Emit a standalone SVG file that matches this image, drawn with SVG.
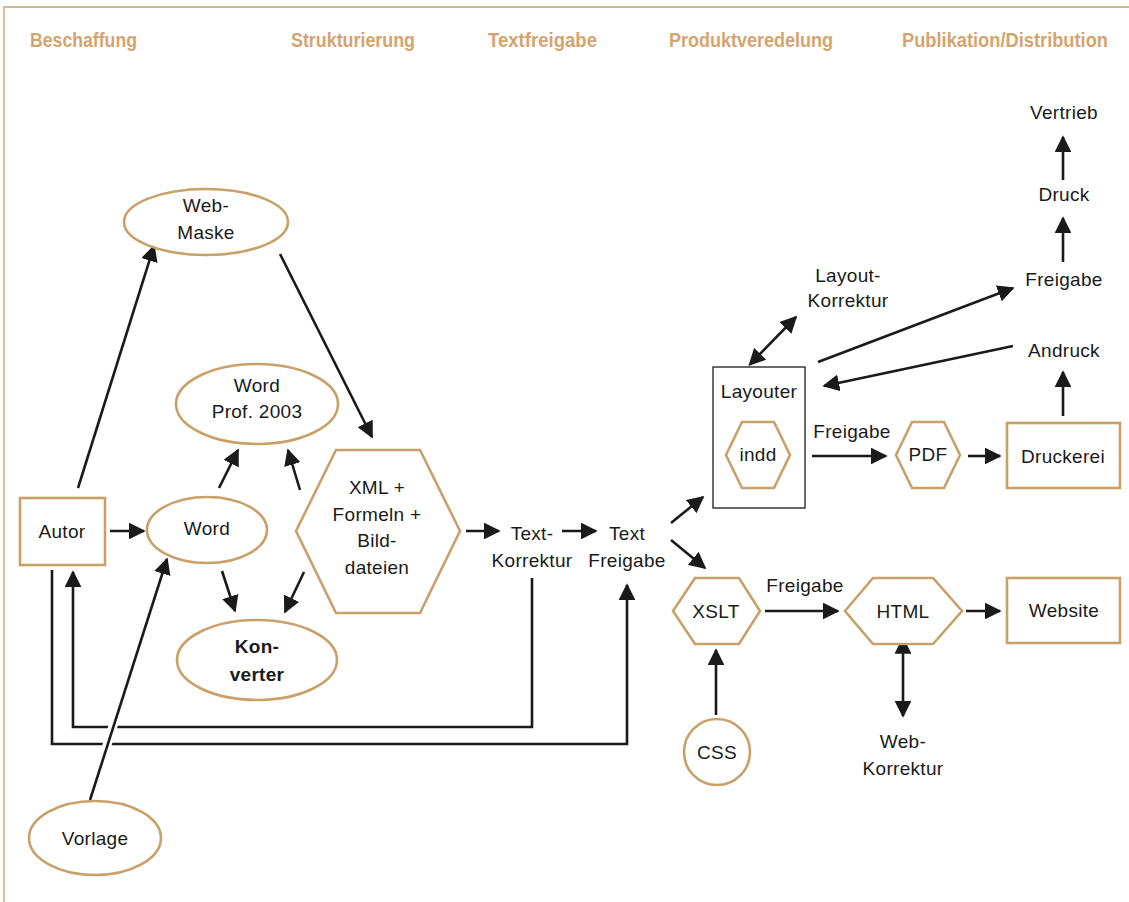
<svg xmlns="http://www.w3.org/2000/svg" width="1129" height="902" viewBox="0 0 1129 902">
  <defs>
    <style>
      .hdr { font-family: "Liberation Sans", Arial, sans-serif; font-weight: bold; font-size: 21px; fill: #d3a470; }
      .hdr-long { font-size: 19.5px; }
      .lbl { font-family: "Liberation Sans", Arial, sans-serif; font-size: 19px; fill: #1a1a1a; text-anchor: middle; letter-spacing: 0.3px; }
      .bold { font-weight: bold; }
      .shape { fill: #ffffff; stroke: #c9a068; stroke-width: 2.6; }
      .box { fill: #ffffff; stroke: #1a1a1a; stroke-width: 1.3; }
      .edge { fill: none; stroke: #1a1a1a; stroke-width: 2.6; }
      .halo { fill: none; stroke: #ffffff; stroke-width: 9; }
      .frame { fill: none; stroke: #d8b78e; stroke-width: 1.8; }
    </style>
    <marker id="ah" viewBox="0 0 10 10" refX="9" refY="5" markerWidth="6.5" markerHeight="6.5" orient="auto" markerUnits="strokeWidth">
      <path d="M0,0 L10,5 L0,10 z" fill="#1a1a1a"/>
    </marker>
    <marker id="ahs" viewBox="0 0 10 10" refX="1" refY="5" markerWidth="6.5" markerHeight="6.5" orient="auto-start-reverse" markerUnits="strokeWidth">
      <path d="M0,0 L10,5 L0,10 z" fill="#1a1a1a"/>
    </marker>
  </defs>

  <rect width="1129" height="902" fill="#ffffff"/>

  <!-- frame -->
  <path class="frame" d="M4,902 V7 H1129"/>

  <!-- column headers -->
  <g id="headers">
    <text class="hdr" x="30" y="47" textLength="107" lengthAdjust="spacingAndGlyphs">Beschaffung</text>
    <text class="hdr" x="291" y="47" textLength="124" lengthAdjust="spacingAndGlyphs">Strukturierung</text>
    <text class="hdr" x="488" y="47" textLength="109" lengthAdjust="spacingAndGlyphs">Textfreigabe</text>
    <text class="hdr" x="669" y="47" textLength="164" lengthAdjust="spacingAndGlyphs">Produktveredelung</text>
    <text class="hdr hdr-long" x="902" y="47" textLength="206" lengthAdjust="spacingAndGlyphs">Publikation/Distribution</text>
  </g>

  <!-- connectors -->
  <g id="connectors">
    <line class="edge" x1="78" y1="488" x2="154" y2="246" marker-end="url(#ah)"/>
    <line class="edge" x1="280" y1="254" x2="372" y2="437" marker-end="url(#ah)"/>
    <line class="edge" x1="219" y1="488" x2="238" y2="450" marker-end="url(#ah)"/>
    <line class="edge" x1="300" y1="490" x2="288" y2="450" marker-end="url(#ah)"/>
    <line class="edge" x1="110" y1="531" x2="144" y2="531" marker-end="url(#ah)"/>
    <line class="edge" x1="222" y1="571" x2="235" y2="611" marker-end="url(#ah)"/>
    <line class="edge" x1="304" y1="572" x2="285" y2="612" marker-end="url(#ah)"/>
    <line class="edge" x1="466" y1="531" x2="499" y2="531" marker-end="url(#ah)"/>
    <line class="edge" x1="562" y1="531" x2="596" y2="531" marker-end="url(#ah)"/>
    <line class="edge" x1="671" y1="523" x2="703" y2="497" marker-end="url(#ah)"/>
    <line class="edge" x1="671" y1="540" x2="705" y2="568" marker-end="url(#ah)"/>
    <!-- feedback loops to Autor and Text Freigabe -->
    <polyline class="edge" points="532,578 532,727 73,727 73,572" marker-end="url(#ah)"/>
    <polyline class="edge" points="52,570 52,744 627,744 627,585" marker-end="url(#ah)"/>
    <!-- Vorlage to Word, crossing the loops with a white gap -->
    <line class="halo" x1="96" y1="780" x2="118" y2="710"/>
    <line class="edge" x1="90" y1="800" x2="167" y2="559" marker-end="url(#ah)"/>
    <line class="edge" x1="759" y1="355" x2="796" y2="317" marker-start="url(#ahs)" marker-end="url(#ah)"/>
    <line class="edge" x1="818" y1="362" x2="1013" y2="288" marker-end="url(#ah)"/>
    <line class="edge" x1="1013" y1="346" x2="824" y2="386" marker-end="url(#ah)"/>
    <line class="edge" x1="1063" y1="416" x2="1063" y2="372" marker-end="url(#ah)"/>
    <line class="edge" x1="1063" y1="262" x2="1063" y2="218" marker-end="url(#ah)"/>
    <line class="edge" x1="1063" y1="180" x2="1063" y2="137" marker-end="url(#ah)"/>
    <line class="edge" x1="812" y1="456" x2="886" y2="456" marker-end="url(#ah)"/>
    <line class="edge" x1="968" y1="456" x2="1000" y2="456" marker-end="url(#ah)"/>
    <line class="edge" x1="765" y1="611" x2="838" y2="611" marker-end="url(#ah)"/>
    <line class="edge" x1="966" y1="611" x2="1000" y2="611" marker-end="url(#ah)"/>
    <line class="edge" x1="716" y1="715" x2="716" y2="650" marker-end="url(#ah)"/>
    <line class="edge" x1="903" y1="652" x2="903" y2="716" marker-start="url(#ahs)" marker-end="url(#ah)"/>
  </g>

  <!-- Beschaffung -->
  <g id="web-maske">
    <ellipse class="shape" cx="206" cy="222" rx="82" ry="33"/>
    <text class="lbl" x="206" y="212">Web-</text>
    <text class="lbl" x="206" y="239">Maske</text>
  </g>
  <g id="autor">
    <rect class="shape" x="20" y="498" width="85" height="67"/>
    <text class="lbl" x="62" y="538">Autor</text>
  </g>
  <g id="vorlage">
    <ellipse class="shape" cx="95" cy="838" rx="66" ry="37"/>
    <text class="lbl" x="95" y="845">Vorlage</text>
  </g>

  <!-- Strukturierung -->
  <g id="word-prof">
    <ellipse class="shape" cx="257" cy="404" rx="81" ry="40"/>
    <text class="lbl" x="257" y="392">Word</text>
    <text class="lbl" x="257" y="418">Prof. 2003</text>
  </g>
  <g id="word">
    <ellipse class="shape" cx="207" cy="530" rx="60" ry="33"/>
    <text class="lbl" x="207" y="535">Word</text>
  </g>
  <g id="konverter">
    <ellipse class="shape" cx="257" cy="660" rx="80" ry="40"/>
    <text class="lbl bold" x="257" y="653">Kon-</text>
    <text class="lbl bold" x="257" y="681">verter</text>
  </g>
  <g id="xml">
    <polygon class="shape" points="296,531 336,450 420,450 460,531 420,613 336,613"/>
    <text class="lbl" x="377" y="494">XML +</text>
    <text class="lbl" x="377" y="521">Formeln +</text>
    <text class="lbl" x="377" y="547">Bild-</text>
    <text class="lbl" x="377" y="574">dateien</text>
  </g>

  <!-- Textfreigabe -->
  <g id="text-korrektur">
    <text class="lbl" x="532" y="540">Text-</text>
    <text class="lbl" x="532" y="567">Korrektur</text>
  </g>
  <g id="text-freigabe">
    <text class="lbl" x="627" y="540">Text</text>
    <text class="lbl" x="627" y="567">Freigabe</text>
  </g>

  <!-- Produktveredelung: print -->
  <g id="layout-korrektur">
    <text class="lbl" x="848" y="282">Layout-</text>
    <text class="lbl" x="848" y="307">Korrektur</text>
  </g>
  <g id="layouter">
    <rect class="box" x="713" y="367" width="92" height="141"/>
    <text class="lbl" x="759" y="398">Layouter</text>
  </g>
  <g id="indd">
    <polygon class="shape" points="726,455 742,422 774,422 790,455 774,488 742,488"/>
    <text class="lbl" x="758" y="461">indd</text>
  </g>
  <g id="label-freigabe-pdf">
    <text class="lbl" x="852" y="438">Freigabe</text>
  </g>
  <g id="pdf">
    <polygon class="shape" points="896,455 912,422 944,422 960,455 944,488 912,488"/>
    <text class="lbl" x="928" y="461">PDF</text>
  </g>
  <g id="druckerei">
    <rect class="shape" x="1007" y="423" width="113" height="65"/>
    <text class="lbl" x="1063" y="463">Druckerei</text>
  </g>

  <!-- Publikation/Distribution: print -->
  <g id="andruck"><text class="lbl" x="1064" y="357">Andruck</text></g>
  <g id="freigabe-druck"><text class="lbl" x="1064" y="286">Freigabe</text></g>
  <g id="druck"><text class="lbl" x="1064" y="201">Druck</text></g>
  <g id="vertrieb"><text class="lbl" x="1064" y="119">Vertrieb</text></g>

  <!-- Web -->
  <g id="xslt">
    <polygon class="shape" points="673,611 695,578 739,578 760,611 739,644 695,644"/>
    <text class="lbl" x="716" y="618">XSLT</text>
  </g>
  <g id="label-freigabe-html">
    <text class="lbl" x="805" y="592">Freigabe</text>
  </g>
  <g id="html">
    <polygon class="shape" points="845,611 873,578 933,578 962,611 933,644 873,644"/>
    <text class="lbl" x="903" y="618">HTML</text>
  </g>
  <g id="website">
    <rect class="shape" x="1007" y="578" width="113" height="65"/>
    <text class="lbl" x="1064" y="617">Website</text>
  </g>
  <g id="css">
    <circle class="shape" cx="717" cy="752" r="33"/>
    <text class="lbl" x="717" y="759">CSS</text>
  </g>
  <g id="web-korrektur">
    <text class="lbl" x="903" y="748">Web-</text>
    <text class="lbl" x="903" y="775">Korrektur</text>
  </g>
</svg>
